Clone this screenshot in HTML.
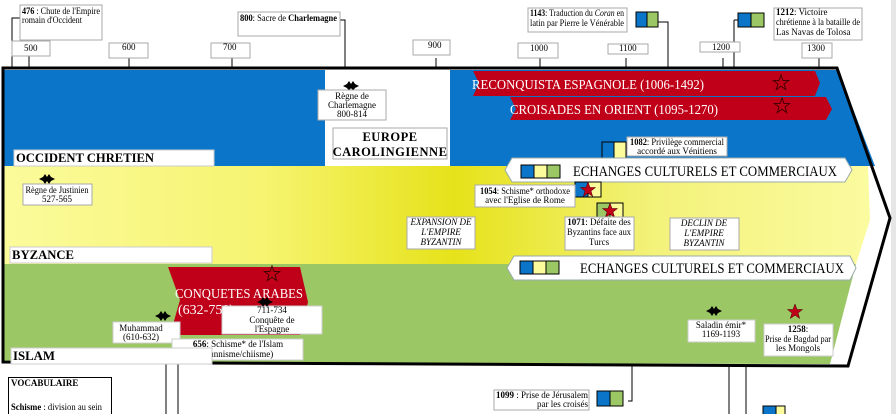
<!DOCTYPE html>
<html><head><meta charset="utf-8"><style>
html,body{margin:0;padding:0;background:#fff;width:896px;height:414px;overflow:hidden}
svg{display:block;font-family:"Liberation Serif",serif}
</style></head><body>
<svg width="896" height="414" viewBox="0 0 896 414" xmlns="http://www.w3.org/2000/svg">
<defs>
<linearGradient id="yg" x1="0" x2="1" y1="0" y2="0">
<stop offset="0" stop-color="#fbfb9c"/><stop offset="0.3" stop-color="#f6f470"/><stop offset="0.52" stop-color="#e6e21a"/><stop offset="0.75" stop-color="#f3f27a"/><stop offset="1" stop-color="#fbfba0"/>
</linearGradient>
<g id="bstar"><polygon points="-8,0 -4,-2 -2,-5 0,-2 2,-5 4,-2 8,0 4,2 2,5 0,2 -2,5 -4,2" fill="#000"/></g>
<polygon id="rstar" points="0,-8 2,-2.5 7.6,-2.5 3,1 4.7,6.5 0,3.2 -4.7,6.5 -3,1 -7.6,-2.5 -2,-2.5"/>
</defs>
<rect x="891" y="0" width="5" height="414" fill="#e6e6e6"/>
<polygon points="4,70 838,70 875,166 4,166" fill="#0b76c9"/>
<rect x="325" y="70" width="125" height="96" fill="#fff"/>
<polygon points="4,166 868,166 870,220 856,264 4,264" fill="url(#yg)"/>
<polygon points="4,264 856,264 830,364 4,362" fill="#9bc865"/>
<polygon points="3,68 837,68 890,218 848,366 3,362" fill="none" stroke="#000" stroke-width="3"/>
<g stroke="#000" stroke-width="1" fill="none">
<line x1="29" y1="55" x2="29" y2="68"/><line x1="129" y1="58" x2="129" y2="68"/><line x1="232" y1="58" x2="232" y2="68"/><line x1="436" y1="58" x2="436" y2="68"/><line x1="540" y1="58" x2="540" y2="68"/><line x1="626" y1="58" x2="626" y2="68"/><line x1="723" y1="58" x2="723" y2="68"/><line x1="734" y1="20" x2="734" y2="68"/><line x1="734" y1="20" x2="738" y2="20"/><line x1="819" y1="58" x2="819" y2="68"/>
<polyline points="20,18 12,18 12,68"/><polyline points="340,20 345,20 345,68"/><polyline points="658,22 668,22 668,68"/>
<line x1="166" y1="364" x2="166" y2="414"/><line x1="178" y1="364" x2="178" y2="414"/>
<polyline points="628,401 632,401 632,366"/><line x1="729" y1="366" x2="729" y2="414"/><line x1="746" y1="366" x2="746" y2="414"/>
</g>
<g fill="#fff" stroke="#aaa" stroke-width="1">
<rect x="12" y="41" width="38" height="15"/><rect x="109" y="43" width="39" height="15"/><rect x="211" y="43" width="39" height="15"/><rect x="413" y="40" width="37" height="15"/><rect x="518" y="43" width="40" height="15"/><rect x="608" y="44" width="40" height="10"/><rect x="700" y="42" width="40" height="10"/><rect x="802" y="43" width="30" height="15"/>
<rect x="20" y="5" width="82" height="35"/><rect x="238" y="12" width="102" height="24"/><rect x="528" y="8" width="99" height="24"/><rect x="774" y="8" width="88" height="32"/>
</g>
<g font-size="9" fill="#000">
<text x="24" y="51">500</text><text x="122" y="50">600</text><text x="223" y="50">700</text><text x="428" y="48">900</text><text x="530" y="51">1000</text><text x="619" y="51">1100</text><text x="712" y="50">1200</text><text x="807" y="51">1300</text>
<text x="22" y="14" textLength="78" lengthAdjust="spacingAndGlyphs"><tspan font-weight="bold">476</tspan> : Chute de l'Empire</text><text x="22" y="23" textLength="60" lengthAdjust="spacingAndGlyphs">romain d'Occident</text>
<text x="240" y="21" textLength="97" lengthAdjust="spacingAndGlyphs"><tspan font-weight="bold">800</tspan>: Sacre de <tspan font-weight="bold">Charlemagne</tspan></text>
<text x="530" y="16" textLength="94" lengthAdjust="spacingAndGlyphs"><tspan font-weight="bold">1143</tspan>: Traduction du <tspan font-style="italic">Coran</tspan> en</text><text x="530" y="26" textLength="94" lengthAdjust="spacingAndGlyphs">latin par Pierre le Vénérable</text>
<text x="776" y="15"><tspan font-weight="bold">1212</tspan>: Victoire</text><text x="776" y="25" textLength="84" lengthAdjust="spacingAndGlyphs">chrétienne à la bataille de</text><text x="776" y="35">Las Navas de Tolosa</text>
</g>
<rect x="636" y="12" width="11" height="15" fill="#0b76c9" stroke="#000"/><rect x="647" y="12" width="11" height="15" fill="#9bc865" stroke="#000"/>
<rect x="738" y="13" width="13" height="14" fill="#0b76c9" stroke="#000"/><rect x="751" y="13" width="13" height="14" fill="#9bc865" stroke="#000"/>
<polygon points="473,71 815,71 820,83 815,96 473,96 479,83" fill="#c00018"/>
<polygon points="510,97 826,97 832,109 826,120 510,120 516,109" fill="#c00018"/>
<text x="472" y="89" font-size="14" fill="#fff" textLength="232" lengthAdjust="spacingAndGlyphs">RECONQUISTA ESPAGNOLE  (1006-1492)</text>
<text x="510" y="114" font-size="14" fill="#fff" textLength="208" lengthAdjust="spacingAndGlyphs">CROISADES EN ORIENT (1095-1270)</text>
<use href="#rstar" x="781" y="83" fill="none" stroke="#400"/><use href="#rstar" x="782" y="106" fill="none" stroke="#400"/>
<use href="#bstar" x="351" y="86"/>
<rect x="318" y="90" width="68" height="30" fill="#fff" stroke="#aaa"/>
<g font-size="9" text-anchor="middle"><text x="352" y="99">Règne de</text><text x="352" y="108">Charlemagne</text><text x="352" y="117">800-814</text></g>
<rect x="333" y="128" width="114" height="31" fill="#fff" stroke="#aaa"/>
<g font-size="12.5" font-weight="bold" text-anchor="middle" letter-spacing="0.5"><text x="390" y="141">EUROPE</text><text x="390" y="156">CAROLINGIENNE</text></g>
<rect x="14" y="150" width="200" height="16" fill="#fff" stroke="#ccc"/>
<text x="16" y="162" font-size="13" font-weight="bold" textLength="138" lengthAdjust="spacingAndGlyphs">OCCIDENT CHRETIEN</text>
<rect x="602" y="142" width="12" height="16" fill="#0b76c9" stroke="#000"/><rect x="614" y="142" width="12" height="16" fill="#fbfb9c" stroke="#000"/>
<rect x="627" y="137" width="100" height="19" fill="#fff" stroke="#aaa"/>
<g font-size="9" text-anchor="middle"><text x="677" y="145" textLength="94" lengthAdjust="spacingAndGlyphs"><tspan font-weight="bold">1082</tspan>: Privilège commercial</text><text x="677" y="154">accordé aux Vénitiens</text></g>
<polygon points="512,158 845,158 852,170 845,182 512,182 505,170" fill="#fff" stroke="#9aa"/>
<rect x="521" y="165" width="13" height="13" fill="#0b76c9" stroke="#000"/><rect x="534" y="165" width="13" height="13" fill="#fbfb9c" stroke="#000"/><rect x="547" y="165" width="13" height="13" fill="#9bc865" stroke="#000"/>
<text x="573" y="176" font-size="14.5" textLength="264" lengthAdjust="spacingAndGlyphs">ECHANGES CULTURELS ET COMMERCIAUX</text>
<polygon points="514,256 850,256 856,268 850,280 514,280 507,268" fill="#fff" stroke="#9aa"/>
<rect x="520" y="261" width="13" height="13" fill="#0b76c9" stroke="#000"/><rect x="533" y="261" width="13" height="13" fill="#fbfb9c" stroke="#000"/><rect x="546" y="261" width="13" height="13" fill="#9bc865" stroke="#000"/>
<text x="580" y="273" font-size="14.5" textLength="264" lengthAdjust="spacingAndGlyphs">ECHANGES CULTURELS ET COMMERCIAUX</text>
<use href="#bstar" x="47" y="179"/>
<rect x="23" y="184" width="69" height="21" fill="#fff" stroke="#aaa"/>
<g font-size="9" text-anchor="middle"><text x="57" y="193" textLength="63" lengthAdjust="spacingAndGlyphs">Règne de Justinien</text><text x="57" y="202">527-565</text></g>
<rect x="575" y="182" width="13" height="15" fill="#0b76c9" stroke="#000"/><rect x="588" y="182" width="13" height="15" fill="#fbfb9c" stroke="#000"/><use href="#rstar" x="588" y="190" fill="#c00018" stroke="#400" stroke-width="0.5"/>
<rect x="475" y="185" width="100" height="22" fill="#fff" stroke="#aaa"/>
<g font-size="9" text-anchor="middle"><text x="525" y="194" textLength="90" lengthAdjust="spacingAndGlyphs"><tspan font-weight="bold">1054</tspan>: Schisme* orthodoxe</text><text x="525" y="203">avec l'Eglise de Rome</text></g>
<rect x="597" y="203" width="13" height="15" fill="#9bc865" stroke="#000"/><rect x="610" y="203" width="13" height="15" fill="#fbfb9c" stroke="#000"/><use href="#rstar" x="610" y="211" fill="#c00018" stroke="#400" stroke-width="0.5"/>
<rect x="565" y="217" width="69" height="33" fill="#fff" stroke="#aaa"/>
<g font-size="9" text-anchor="middle"><text x="599" y="225"><tspan font-weight="bold">1071</tspan>: Défaite des</text><text x="599" y="235" textLength="64" lengthAdjust="spacingAndGlyphs">Byzantins face aux</text><text x="599" y="245">Turcs</text></g>
<rect x="407" y="217" width="68" height="32" fill="#fff" stroke="#aaa"/>
<g font-size="9" font-style="italic" text-anchor="middle"><text x="441" y="225">EXPANSION DE</text><text x="441" y="235">L'EMPIRE</text><text x="441" y="245">BYZANTIN</text></g>
<rect x="670" y="218" width="69" height="32" fill="#fff" stroke="#aaa"/>
<g font-size="9" font-style="italic" text-anchor="middle"><text x="704" y="226">DECLIN DE</text><text x="704" y="236">L'EMPIRE</text><text x="704" y="246">BYZANTIN</text></g>
<rect x="10" y="247" width="202" height="16" fill="#fff" stroke="#ccc"/>
<text x="12" y="259" font-size="13" font-weight="bold" textLength="62" lengthAdjust="spacingAndGlyphs">BYZANCE</text>
<polygon points="168,267 300,267 308,302 300,335 170,335 180,300" fill="#c00018"/>
<text x="175" y="298" font-size="14" fill="#fff" textLength="128" lengthAdjust="spacingAndGlyphs">CONQUETES ARABES</text>
<text x="178" y="314" font-size="14" fill="#fff">(632-750)</text>
<use href="#rstar" x="272" y="274" fill="none" stroke="#400"/>
<rect x="222" y="306" width="100" height="28" fill="#fff" stroke="#ccc"/>
<use href="#bstar" x="265" y="302"/>
<g font-size="9" text-anchor="middle"><text x="272" y="313">711-734</text><text x="272" y="323">Conquête de</text><text x="272" y="332">l'Espagne</text></g>
<use href="#bstar" x="163" y="316"/>
<rect x="113" y="322" width="67" height="21" fill="#fff" stroke="#ccc"/>
<g font-size="9" text-anchor="middle"><text x="141" y="331">Muhammad</text><text x="141" y="340">(610-632)</text></g>
<rect x="172" y="339" width="131" height="21" fill="#fff" stroke="#ccc"/>
<g font-size="9" text-anchor="middle"><text x="238" y="347"><tspan font-weight="bold">656</tspan>: Schisme* de l'Islam</text><text x="238" y="357">(sunnisme/chiisme)</text></g>
<rect x="11" y="348" width="201" height="16" fill="#fff" stroke="#ccc"/>
<text x="13" y="360" font-size="13" font-weight="bold" textLength="42" lengthAdjust="spacingAndGlyphs">ISLAM</text>
<use href="#bstar" x="714" y="311"/>
<rect x="688" y="320" width="67" height="22" fill="#fff" stroke="#ccc"/>
<g font-size="9" text-anchor="middle"><text x="721" y="328">Saladin émir*</text><text x="721" y="337">1169-1193</text></g>
<use href="#rstar" x="795" y="312" fill="#c00018" stroke="#400" stroke-width="0.5"/>
<rect x="764" y="324" width="69" height="32" fill="#fff" stroke="#ccc"/>
<g font-size="9" text-anchor="middle"><text x="798" y="332"><tspan font-weight="bold">1258</tspan>:</text><text x="798" y="342" textLength="66" lengthAdjust="spacingAndGlyphs">Prise de Bagdad par</text><text x="798" y="351">les Mongols</text></g>
<rect x="8.5" y="377.5" width="103" height="40" fill="#fff" stroke="#000"/>
<text x="11" y="386" font-size="9" font-weight="bold">VOCABULAIRE</text>
<text x="11" y="410" font-size="9" textLength="91" lengthAdjust="spacingAndGlyphs"><tspan font-weight="bold">Schisme</tspan> : division au sein</text>
<rect x="494" y="390" width="95" height="20" fill="#fff" stroke="#aaa"/>
<g font-size="9" text-anchor="end"><text x="588" y="398"><tspan font-weight="bold">1099</tspan> : Prise de Jérusalem</text><text x="588" y="407">par les croisés</text></g>
<rect x="597" y="391" width="13" height="15" fill="#0b76c9" stroke="#000"/><rect x="610" y="391" width="13" height="15" fill="#9bc865" stroke="#000"/>
<rect x="763" y="406" width="13" height="10" fill="#0b76c9" stroke="#000"/><rect x="776" y="406" width="9" height="10" fill="#fbfb9c" stroke="#000"/>
</svg>
</body></html>
